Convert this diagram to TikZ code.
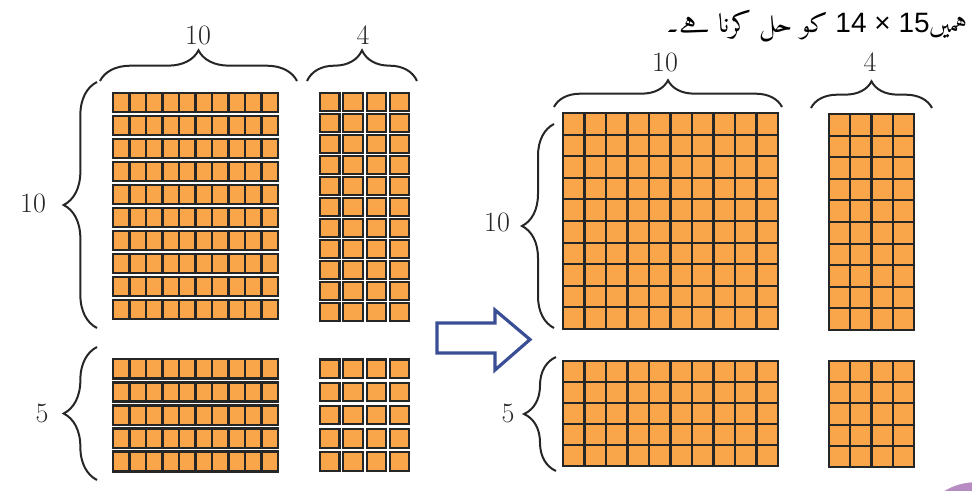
\documentclass[tikz,border=0pt]{standalone}
\usepackage{fontspec}
\usetikzlibrary{decorations.pathreplacing}
\TeXXeTstate=1
\newfontfamily\urdufont[Script=Arabic]{Amiri}
\newfontfamily\numfont{Liberation Sans}
\definecolor{blockorange}{RGB}{249,166,74}
\definecolor{blockline}{RGB}{38,38,38}
\definecolor{arrowblue}{RGB}{58,78,150}
\definecolor{cornerpurple}{RGB}{183,140,194}

\begin{document}
\begin{tikzpicture}[x=0.75pt,y=-0.75pt,
  rod/.style={draw=blockline,fill=blockorange,line width=2pt},
  unit/.style={draw=blockline,fill=blockorange,line width=1.6pt},
  gridline/.style={blockline,line width=1.6pt},
  gridbox/.style={fill=blockorange},
  gridedge/.style={draw=blockline,line width=2.2pt},
  bracket/.style={decorate,decoration={brace,amplitude=#1},blockline,line width=1.5pt},
  count/.style={font=\fontsize{21}{25}\selectfont,text=blockline}]
\useasboundingbox (0,0) rectangle (972,490);
% corner mark
\begin{scope}
\clip (0,0) rectangle (972,490);
\fill[cornerpurple] (975,540) circle (57.7);
\end{scope}
% left: tens rods
\foreach \i in {0,...,9}{
  \draw[rod] (113,93+23*\i) rectangle (278,112+23*\i);
  \foreach \k in {1,...,9}
    \draw[blockline,line width=1.8pt] (113+16.5*\k,93+23*\i) -- (113+16.5*\k,112+23*\i);
}
\foreach \i in {0,...,4}{
  \draw[rod] (113,359+23.2*\i) rectangle (278,378.5+23.2*\i);
  \foreach \k in {1,...,9}
    \draw[blockline,line width=1.8pt] (113+16.5*\k,359+23.2*\i) -- (113+16.5*\k,378.5+23.2*\i);
}
% left: unit squares
\foreach \i in {0,...,10}
  \foreach \j in {0,...,3}
    \draw[unit] (320+23.3*\j,93+21*\i) rectangle (339.5+23.3*\j,111+21*\i);
\foreach \i in {0,...,4}
  \foreach \j in {0,...,3}
    \draw[unit] (320+23.3*\j,359.5+23.2*\i) rectangle (339.5+23.3*\j,378+23.2*\i);
% left braces
\draw[bracket=23pt] (100,81) -- (297,81);
\draw[bracket=23pt] (307,81) -- (417,81);
\draw[bracket=25pt] (97,328) -- (97,82);
\draw[bracket=25pt] (97,480) -- (97,347);
\node[count] (ltens) at (198,35) {10};
\node[count] (lunits) at (363,35) {4};
\node[count] (lrows) at (33,203) {10};
\node[count] (lfive) at (42,413) {5};
% arrow
\draw[arrowblue,line width=2.4pt,line join=miter]
  (437,323) -- (495,323) -- (495,310) -- (530,339.5) -- (495,370) -- (495,353) -- (437,353) -- cycle;
% right: grids
\fill[gridbox] (563,113) rectangle (778,329);
\foreach \k in {1,...,9}{
  \draw[gridline] (563+21.5*\k,113) -- (563+21.5*\k,329);
  \draw[gridline] (563,113+21.6*\k) -- (778,113+21.6*\k);
}
\draw[gridedge] (563,113) rectangle (778,329);
\fill[gridbox] (563,361) rectangle (778,466);
\foreach \k in {1,...,9}
  \draw[gridline] (563+21.5*\k,361) -- (563+21.5*\k,466);
\foreach \k in {1,...,4}
  \draw[gridline] (563,361+21*\k) -- (778,361+21*\k);
\draw[gridedge] (563,361) rectangle (778,466);
\fill[gridbox] (829,114) rectangle (914,330);
\foreach \k in {1,...,3}
  \draw[gridline] (829+21.25*\k,114) -- (829+21.25*\k,330);
\foreach \k in {1,...,9}
  \draw[gridline] (829,114+21.6*\k) -- (914,114+21.6*\k);
\draw[gridedge] (829,114) rectangle (914,330);
\fill[gridbox] (829,361) rectangle (914,467);
\foreach \k in {1,...,3}
  \draw[gridline] (829+21.25*\k,361) -- (829+21.25*\k,467);
\foreach \k in {1,...,4}
  \draw[gridline] (829,361+21.2*\k) -- (914,361+21.2*\k);
\draw[gridedge] (829,361) rectangle (914,467);
% right braces
\draw[bracket=20pt] (554,107) -- (782,107);
\draw[bracket=20pt] (811,108) -- (932,108);
\draw[bracket=24pt] (554,328) -- (554,124);
\draw[bracket=24pt] (556,471) -- (556,357);
\node[count] (rtens) at (665,62) {10};
\node[count] (runits) at (870,62) {4};
\node[count] (rrows) at (497,222) {10};
\node[count] (rfive) at (508,413) {5};
% task line
\node[anchor=east,inner sep=0pt,font=\urdufont\fontsize{20}{23}\selectfont] (task) at (968,26)
  {\beginR ہمیں{\numfont\fontsize{21}{23}\selectfont 15 × 14} کو حل کرنا ہے۔\endR};
\end{tikzpicture}
\end{document}
